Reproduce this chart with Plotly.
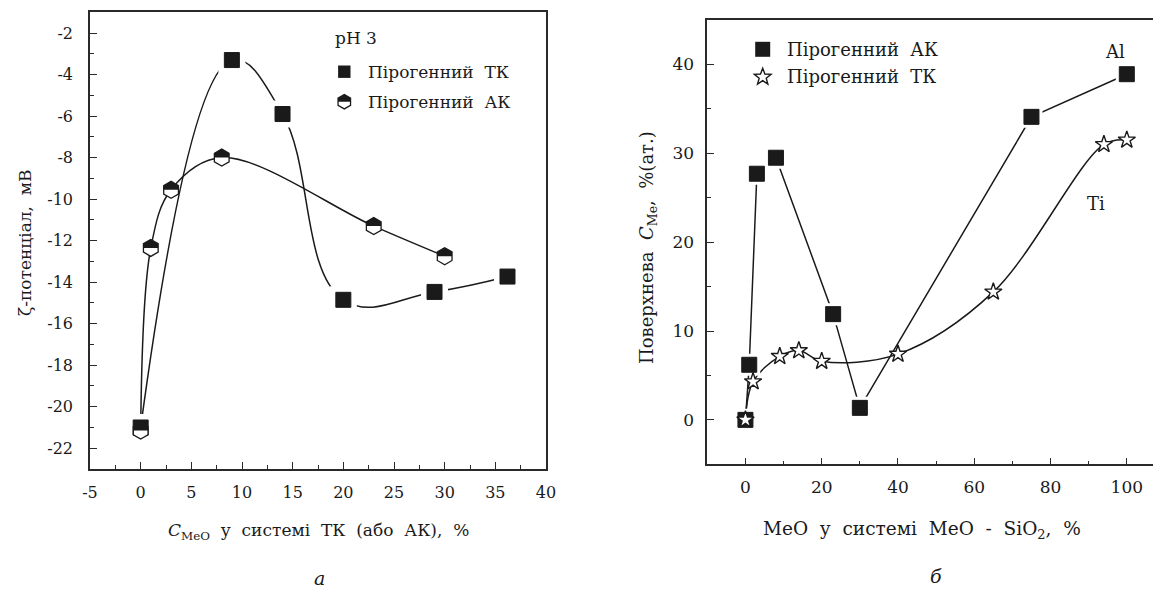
import numpy as np
import plotly.graph_objects as go

W, H = 1153, 592

# ---------------- data ----------------
# panel a: zeta potential vs C_MeO
zeta_tk_x = [0, 9, 14, 20, 29, 36.2]
zeta_tk_y = [-21.0, -3.3, -5.9, -14.85, -14.47, -13.73]
zeta_ak_x = [0, 1, 3, 8, 23, 30]
zeta_ak_y = [-21.15, -12.35, -9.55, -8.0, -11.3, -12.75]

# panel б: surface concentration vs MeO content
surf_ak_x = [0, 1, 3, 8, 23, 30, 75, 100]
surf_ak_y = [0, 6.2, 27.7, 29.5, 11.9, 1.35, 34.1, 38.9]
surf_tk_x = [0, 2, 9, 14, 20, 40, 65, 94, 100]
surf_tk_y = [0, 4.3, 7.15, 7.8, 6.6, 7.4, 14.4, 31.0, 31.5]

left_xticks = [-5, 0, 5, 10, 15, 20, 25, 30, 35, 40]
left_yticks = [-22, -20, -18, -16, -14, -12, -10, -8, -6, -4, -2]
right_xticks = [0, 20, 40, 60, 80, 100]
right_yticks = [0, 10, 20, 30, 40]

legend_a_title = "pH 3"
legend_a_labels = ["Пірогенний  ТК", "Пірогенний  АК"]
legend_b_labels = ["Пірогенний  АК", "Пірогенний  ТК"]

# ---------------- style ----------------
FONT = "DejaVu Serif"
INK = "#1a1a1a"
AX = "#2a2a2a"


def px(x):
    return x / W


def py(y):
    return 1 - y / H


fig = go.Figure()

# ---- panel a ----
fig.add_trace(go.Scatter(x=zeta_ak_x, y=zeta_ak_y, mode="lines",
                         line=dict(color=INK, width=1.5, shape="spline", smoothing=1.0),
                         xaxis="x", yaxis="y", showlegend=False, hoverinfo="skip"))
fig.add_trace(go.Scatter(x=zeta_tk_x, y=zeta_tk_y, mode="lines",
                         line=dict(color=INK, width=1.5, shape="spline", smoothing=1.2),
                         xaxis="x", yaxis="y", showlegend=False, hoverinfo="skip"))
# white halo to create gaps in the line near markers
fig.add_trace(go.Scatter(x=zeta_tk_x, y=zeta_tk_y, mode="markers",
                         marker=dict(symbol="square", size=27, color="white", line=dict(width=0)),
                         xaxis="x", yaxis="y", showlegend=False, hoverinfo="skip"))
fig.add_trace(go.Scatter(x=zeta_tk_x, y=zeta_tk_y, mode="markers",
                         marker=dict(symbol="square", size=15, color=INK, line=dict(color=INK, width=1)),
                         xaxis="x", yaxis="y", showlegend=False))
fig.add_trace(go.Scatter(x=zeta_ak_x, y=zeta_ak_y, mode="markers",
                         marker=dict(symbol="hexagon", size=17, color="white", line=dict(color=INK, width=1.3)),
                         xaxis="x", yaxis="y", showlegend=False))

# ---- panel б ----
fig.add_trace(go.Scatter(x=surf_tk_x, y=surf_tk_y, mode="lines",
                         line=dict(color=INK, width=1.5, shape="spline", smoothing=1.0),
                         xaxis="x2", yaxis="y2", showlegend=False, hoverinfo="skip"))
fig.add_trace(go.Scatter(x=surf_ak_x, y=surf_ak_y, mode="lines",
                         line=dict(color=INK, width=1.5),
                         xaxis="x2", yaxis="y2", showlegend=False, hoverinfo="skip"))
fig.add_trace(go.Scatter(x=surf_ak_x, y=surf_ak_y, mode="markers",
                         marker=dict(symbol="square", size=22, color="white", line=dict(width=0)),
                         xaxis="x2", yaxis="y2", showlegend=False, hoverinfo="skip"))
fig.add_trace(go.Scatter(x=surf_ak_x, y=surf_ak_y, mode="markers",
                         marker=dict(symbol="square", size=15, color=INK, line=dict(color=INK, width=1)),
                         xaxis="x2", yaxis="y2", showlegend=False))
fig.add_trace(go.Scatter(x=surf_tk_x, y=surf_tk_y, mode="markers",
                         marker=dict(symbol="star", size=13, color="white", line=dict(color=INK, width=1.4)),
                         xaxis="x2", yaxis="y2", showlegend=False))

# ---------------- marker glyph helpers (pixel paths) ----------------
def hex_half_path(R):
    a = R * np.sqrt(3) / 2
    return (f"M{-a:.2f},0 L{-a:.2f},{R/2:.2f} L0,{R:.2f} "
            f"L{a:.2f},{R/2:.2f} L{a:.2f},0 Z")


def hex_full_path(R):
    a = R * np.sqrt(3) / 2
    return (f"M{-a:.2f},{-R/2:.2f} L{-a:.2f},{R/2:.2f} L0,{R:.2f} L{a:.2f},{R/2:.2f} "
            f"L{a:.2f},{-R/2:.2f} L0,{-R:.2f} Z")


def star_path(Ro, ratio=0.42):
    pts = []
    for k in range(10):
        ang = np.pi / 2 + k * np.pi / 5
        r = Ro if k % 2 == 0 else Ro * ratio
        pts.append((r * np.cos(ang), r * np.sin(ang)))
    return "M" + " L".join(f"{x:.2f},{y:.2f}" for x, y in pts) + " Z"


shapes = []
# black top halves of the hexagon markers in panel a
for xv, yv in zip(zeta_ak_x, zeta_ak_y):
    shapes.append(dict(type="path", xref="x", yref="y", xsizemode="pixel", ysizemode="pixel",
                       xanchor=xv, yanchor=yv, path=hex_half_path(8.5),
                       fillcolor=INK, line=dict(width=0), layer="above"))

# legend glyphs panel a
lg_x = px(344.3)
shapes.append(dict(type="rect", xref="paper", yref="paper", xsizemode="pixel", ysizemode="pixel",
                   xanchor=lg_x, yanchor=py(71.7), x0=-6.2, x1=6.2, y0=-6.2, y1=6.2,
                   fillcolor=INK, line=dict(width=0)))
shapes.append(dict(type="path", xref="paper", yref="paper", xsizemode="pixel", ysizemode="pixel",
                   xanchor=lg_x, yanchor=py(101.7), path=hex_full_path(7.2),
                   fillcolor="white", line=dict(color=INK, width=1.3)))
shapes.append(dict(type="path", xref="paper", yref="paper", xsizemode="pixel", ysizemode="pixel",
                   xanchor=lg_x, yanchor=py(101.7), path=hex_half_path(7.2),
                   fillcolor=INK, line=dict(width=0)))
# legend glyphs panel б
lg2_x = px(762.7)
shapes.append(dict(type="rect", xref="paper", yref="paper", xsizemode="pixel", ysizemode="pixel",
                   xanchor=lg2_x, yanchor=py(49.3), x0=-7.5, x1=7.5, y0=-7.5, y1=7.5,
                   fillcolor=INK, line=dict(width=0)))
shapes.append(dict(type="path", xref="paper", yref="paper", xsizemode="pixel", ysizemode="pixel",
                   xanchor=lg2_x, yanchor=py(77), path=star_path(8.8),
                   fillcolor="white", line=dict(color=INK, width=1.4)))

tick_a = dict(family=FONT, size=16, color=INK)
tf = dict(family=FONT, size=17, color=INK)
tick_b = dict(family=FONT, size=17, color=INK)
tf2 = dict(family=FONT, size=18, color=INK)

annotations = [
    dict(text="ζ-потенціал,  мВ", x=px(25), y=py(243), textangle=-90, font=tf),
    dict(text="<i>C</i><sub>MeO</sub>  у  системі  ТК  (або  АК),  %", x=px(318), y=py(531), font=tf),
    dict(text="<i>а</i>", x=px(319), y=py(578), font=dict(family=FONT, size=19, color=INK)),
    dict(text=legend_a_title, x=px(333), y=py(38.5), xanchor="left", font=tf),
    dict(text=legend_a_labels[0], x=px(366), y=py(71.7), xanchor="left", font=tf),
    dict(text=legend_a_labels[1], x=px(366), y=py(101.7), xanchor="left", font=tf),

    dict(text="Поверхнева  <i>C</i><sub>Me</sub>,  %(ат.)", x=px(648), y=py(248), textangle=-90, font=tf2),
    dict(text="MeO  у  системі  MeO  -  SiO<sub>2</sub>,  %", x=px(922), y=py(530),
         font=dict(family=FONT, size=18.5, color=INK)),
    dict(text="<i>б</i>", x=px(936), y=py(576), font=dict(family=FONT, size=19, color=INK)),
    dict(text=legend_b_labels[0], x=px(785), y=py(49.3), xanchor="left", font=tf2),
    dict(text=legend_b_labels[1], x=px(785), y=py(77), xanchor="left", font=tf2),
    dict(text="Al", x=px(1115), y=py(52), font=tf2),
    dict(text="Ti", x=px(1096), y=py(204), font=tf2),
]
for a in annotations:
    a.update(xref="paper", yref="paper", showarrow=False)
    a.setdefault("xanchor", "center")
    a.setdefault("yanchor", "middle")

common = dict(showline=True, linecolor=AX, linewidth=1.6, ticks="inside", ticklen=7,
              tickwidth=1.3, tickcolor=AX, showgrid=False, zeroline=False,
              automargin=False, tickmode="array")

fig.update_layout(
    width=W, height=H,
    margin=dict(l=0, r=0, t=0, b=0),
    paper_bgcolor="white", plot_bgcolor="white",
    showlegend=False,
    xaxis=dict(domain=[px(90), px(546)], range=[-5, 40], anchor="y", mirror=True,
               tickvals=left_xticks, ticktext=[str(v) for v in left_xticks],
               tickfont=tick_a, ticklabelstandoff=8,
               minor=dict(tickmode="linear", tick0=0, dtick=2.5, ticks="inside", ticklen=4,
                          tickwidth=1.2, tickcolor=AX, showgrid=False),
               **common),
    yaxis=dict(domain=[py(469), py(12.3)], range=[-23, -1], anchor="x", mirror=True,
               tickvals=left_yticks, ticktext=[str(v) for v in left_yticks],
               tickfont=tick_a, ticklabelstandoff=12,
               minor=dict(tickmode="linear", tick0=0, dtick=1, ticks="inside", ticklen=4,
                          tickwidth=1.2, tickcolor=AX, showgrid=False),
               **common),
    xaxis2=dict(domain=[px(707.3), 1.0], range=[-10, 106.87], anchor="y2", mirror=True,
                tickvals=right_xticks, ticktext=[str(v) for v in right_xticks],
                tickfont=tick_b, ticklabelstandoff=6,
                minor=dict(tickmode="linear", tick0=0, dtick=10, ticks="inside", ticklen=4,
                           tickwidth=1.2, tickcolor=AX, showgrid=False),
                **common),
    yaxis2=dict(domain=[py(464.3), py(20)], range=[-5, 45], anchor="x2", mirror=False,
                tickvals=right_yticks, ticktext=[str(v) for v in right_yticks],
                tickfont=tick_b, ticklabelstandoff=8,
                minor=dict(tickmode="linear", tick0=0, dtick=5, ticks="inside", ticklen=4,
                           tickwidth=1.2, tickcolor=AX, showgrid=False),
                **common),
    shapes=shapes,
    annotations=annotations,
)

fig.write_html("out.html", config={"displayModeBar": False},
               post_script="document.body.style.margin='0px';document.body.style.overflow='hidden';")
